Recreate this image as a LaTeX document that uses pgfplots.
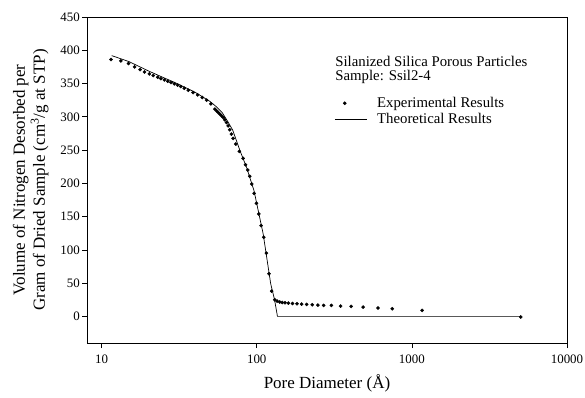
\documentclass[border=0pt]{standalone}
\usepackage{fontspec}
\setmainfont{Liberation Serif}
\usepackage{pgfplots}
\pgfplotsset{compat=1.18}
\begin{document}
\begin{tikzpicture}
\begin{axis}[
  name=ax,
  at={(0,0)}, anchor=south west,
  scale only axis,
  width=480pt, height=326pt,
  xmode=log,
  xmin=8.05, xmax=10000,
  ymin=-40, ymax=450,
  xtick={10,100,1000,10000},
  xticklabels={10,100,1000,10000},
  ytick={0,50,100,150,200,250,300,350,400,450},
  xminorticks=false,
  xtick pos=bottom, ytick pos=left,
  tick align=outside,
  major tick length=5pt,
  axis line style={black, line width=0.7pt},
  tick style={black, line width=0.7pt},
  /pgf/number format/assume math mode=true,
  tick label style={font=\fontsize{12.9}{14}\selectfont},
  yticklabel style={anchor=east, inner sep=0pt, xshift=-2pt},
  xticklabel style={anchor=north, inner sep=0pt, yshift=-7pt},
  xlabel={Pore Diameter (Å)},
  xlabel style={font=\fontsize{17}{20}\selectfont, at={(axis description cs:0.5,0)}, anchor=center, yshift=-40pt},
  ylabel={Volume of Nitrogen Desorbed per\\Gram of Dried Sample (cm\textsuperscript{3}/g at STP)},
  ylabel style={font=\fontsize{17}{20}\selectfont, align=center, at={(axis description cs:-0.117,0.5)}, anchor=center},
  legend style={draw=none, fill=none, inner sep=0pt, at={(axis description cs:0.515,0.76)}, anchor=north west, font=\fontsize{14.8}{17}\selectfont, row sep=0.5pt, column sep=8pt},
  legend cell align=left,
  clip=false,
]
\addplot[only marks, mark=*, mark size=1.6pt, black,
  legend image code/.code={\fill[black] (10pt,0pt) circle (1.6pt); \path[draw=none] (0pt,0pt) -- (32pt,0pt);}]
 coordinates {
(11.5,386) (13.3,384) (14.9,380) (16.3,375) (17.7,371) (18.9,367.5) (20.3,364.5)
(21.5,362) (23.0,359.5) (24.1,357.5) (25.4,355.5) (26.7,353.5) (28.0,351.5)
(29.4,349.5) (30.9,347.5) (32.4,345.5) (34.1,343) (36.2,340) (38.9,336.5)
(41.6,333) (44.5,329) (47.5,325) (50.6,319.5) (53.7,311.5) (55.1,309) (56.4,306.5)
(57.8,304) (59.3,301.5) (60.7,299) (62.2,295.5) (63.8,291.5) (65.4,286.5)
(67.0,280.5) (68.7,274) (70.4,267.5) (73.3,259) (77.2,248) (81.6,237.5)
(84.6,228) (87.5,220) (90.1,210.5) (92.9,199) (96.2,185) (99.5,170) (103.1,154)
(106.7,136.5) (111,119) (115.4,95) (120,64) (124.8,38) (130.5,25) (135.2,23)
(140.7,21.5) (146,21) (152,20.5) (160,20) (170,19.5) (181.7,19) (194.8,18.5)
(209.9,18) (228,17.5) (248,17) (270,16.5) (303,16.5) (347,15.5) (406,15)
(485,14) (605,12.5) (747,11.5) (1164,9) (5035,-1)
};
\addlegendentry{Experimental Results}
\addplot[black, line width=0.7pt, mark=none,
  legend image code/.code={\draw[black, line width=0.7pt] (0pt,0pt) -- (32pt,0pt);}]
 coordinates {
(11.6,392) (15,383) (20,369) (25,359) (30,351) (40,337) (50,323) (55,315)
(60,306) (65,293) (70,280) (78,249) (86,224) (96,189) (110,124) (123,49)
(130,26) (136,0) (5000,0)
};
\addlegendentry{Theoretical Results}
\node[anchor=north west, align=left, inner sep=0pt, font=\fontsize{14.8}{13.5}\selectfont]
  at (axis description cs:0.517,0.88) {Silanized Silica Porous Particles\\Sample: Ssil2-4};
\end{axis}
\pgfresetboundingbox
\path (ax.south west) ++(-87pt,-55pt) rectangle ++(585pt,398pt);
\end{tikzpicture}
\end{document}
